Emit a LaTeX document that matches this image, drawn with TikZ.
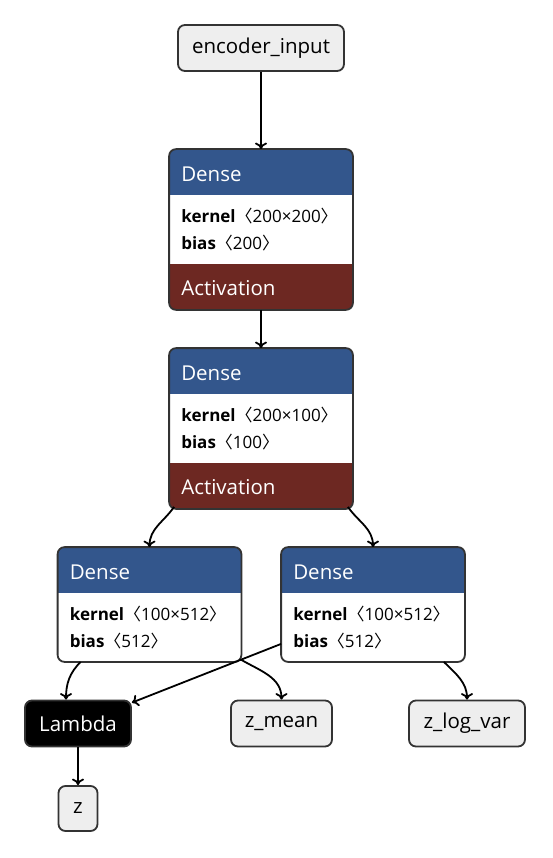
\documentclass[tikz,border=0pt]{standalone}
\usepackage{fontspec}
\setmainfont{Open Sans}
\newfontfamily\cjk{Noto Sans CJK SC}
\usetikzlibrary{arrows.meta}

\definecolor{denseblue}{RGB}{51,86,140}
\definecolor{actred}{RGB}{109,40,34}
\definecolor{inputgray}{RGB}{238,238,238}
\definecolor{edgegray}{RGB}{51,51,51}

\tikzset{
  layer/.style={draw=edgegray, line width=1.8pt, rounded corners=7pt, fill=inputgray,
    minimum height=46pt, inner sep=0pt, font=\fontsize{20.5}{24}\selectfont},
  lambdabox/.style={layer, fill=black, text=white},
  densebox/.style={minimum width=182pt, inner sep=0pt, outer sep=0.9pt},
  headtext/.style={anchor=base west, text=white, inner sep=0pt, font=\fontsize{20.5}{24}\selectfont},
  bodytext/.style={anchor=base west, inner sep=0pt, font=\fontsize{17}{20}\selectfont},
  flow/.style={-{Computer Modern Rightarrow[length=6.5pt,width=12pt,line width=1.8pt]}, line width=1.8pt},
}

\begin{document}
\begin{tikzpicture}[x=1pt,y=1pt]
        \useasboundingbox (0,0) rectangle (552,-858);

        \node[layer, minimum width=166pt] (input) at (261,-48) {encoder\_input};

        % dense blocks: name / centre x / top / height / kernel / bias / activation
        \foreach \n/\cx/\top/\hgt/\k/\b/\act in {
            dense1/261/150/159/200×200/200/1,
            dense2/261/349/159/200×100/100/1,
            dense3/149.5/548/113/100×512/512/0,
            dense4/373/548/113/100×512/512/0}{
          \node[densebox, minimum height=\hgt pt] (\n) at (\cx,{-\top-\hgt/2}) {};
          \begin{scope}
            \clip[rounded corners=7pt] (\n.north west) rectangle (\n.south east);
            \fill[white] (\n.north west) rectangle (\n.south east);
            \fill[denseblue] (\n.north west) rectangle ([yshift=-46pt]\n.north east);
            \ifnum\act=1
              \fill[actred] ([yshift=46pt]\n.south west) rectangle (\n.south east);
            \fi
          \end{scope}
          \draw[edgegray, line width=1.8pt, rounded corners=7pt]
            (\n.north west) rectangle (\n.south east);
          \node[headtext] at ([xshift=12pt,yshift=-32pt]\n.north west) {Dense};
          \node[bodytext] at ([xshift=12pt,yshift=-73pt]\n.north west)
            {\textbf{kernel}{\cjk 〈}\k{\cjk 〉}};
          \node[bodytext] at ([xshift=12pt,yshift=-100pt]\n.north west)
            {\textbf{bias}{\cjk 〈}\b{\cjk 〉}};
          \ifnum\act=1
            \node[headtext] at ([xshift=12pt,yshift=14pt]\n.south west) {Activation};
          \fi
        }

        \node[lambdabox, minimum width=106pt] (lambda) at (78,-723.5) {Lambda};
        \node[layer, minimum width=101pt] (zmean) at (281.5,-723.5) {z\_mean};
        \node[layer, minimum width=116pt] (zlogvar) at (467,-723.5) {z\_log\_var};
        \node[layer, minimum width=39pt, minimum height=45pt] (z) at (78,-808.5) {z};

        \draw[flow] (input) -- (dense1);
        \draw[flow] (dense1) -- (dense2);
        \draw[flow] ([xshift=5pt,yshift=2pt]dense2.south west) to[out=-125,in=90] (dense3.north);
        \draw[flow] ([xshift=-5pt,yshift=2pt]dense2.south east) to[out=-55,in=90] (dense4.north);
        \draw[flow] ([xshift=23pt]dense3.south west) to[out=-135,in=90] ([xshift=-12pt]lambda.north);
        \draw[flow] ([yshift=2pt]dense3.south east) to[out=-30,in=90] (zmean.north);
        \draw[flow] ([yshift=18pt]dense4.south west) -- ([yshift=-3pt]lambda.north east);
        \draw[flow] ([xshift=-21pt]dense4.south east) to[out=-45,in=90] (zlogvar.north);
        \draw[flow] (lambda) -- (z);

    \end{tikzpicture}
\end{document}
